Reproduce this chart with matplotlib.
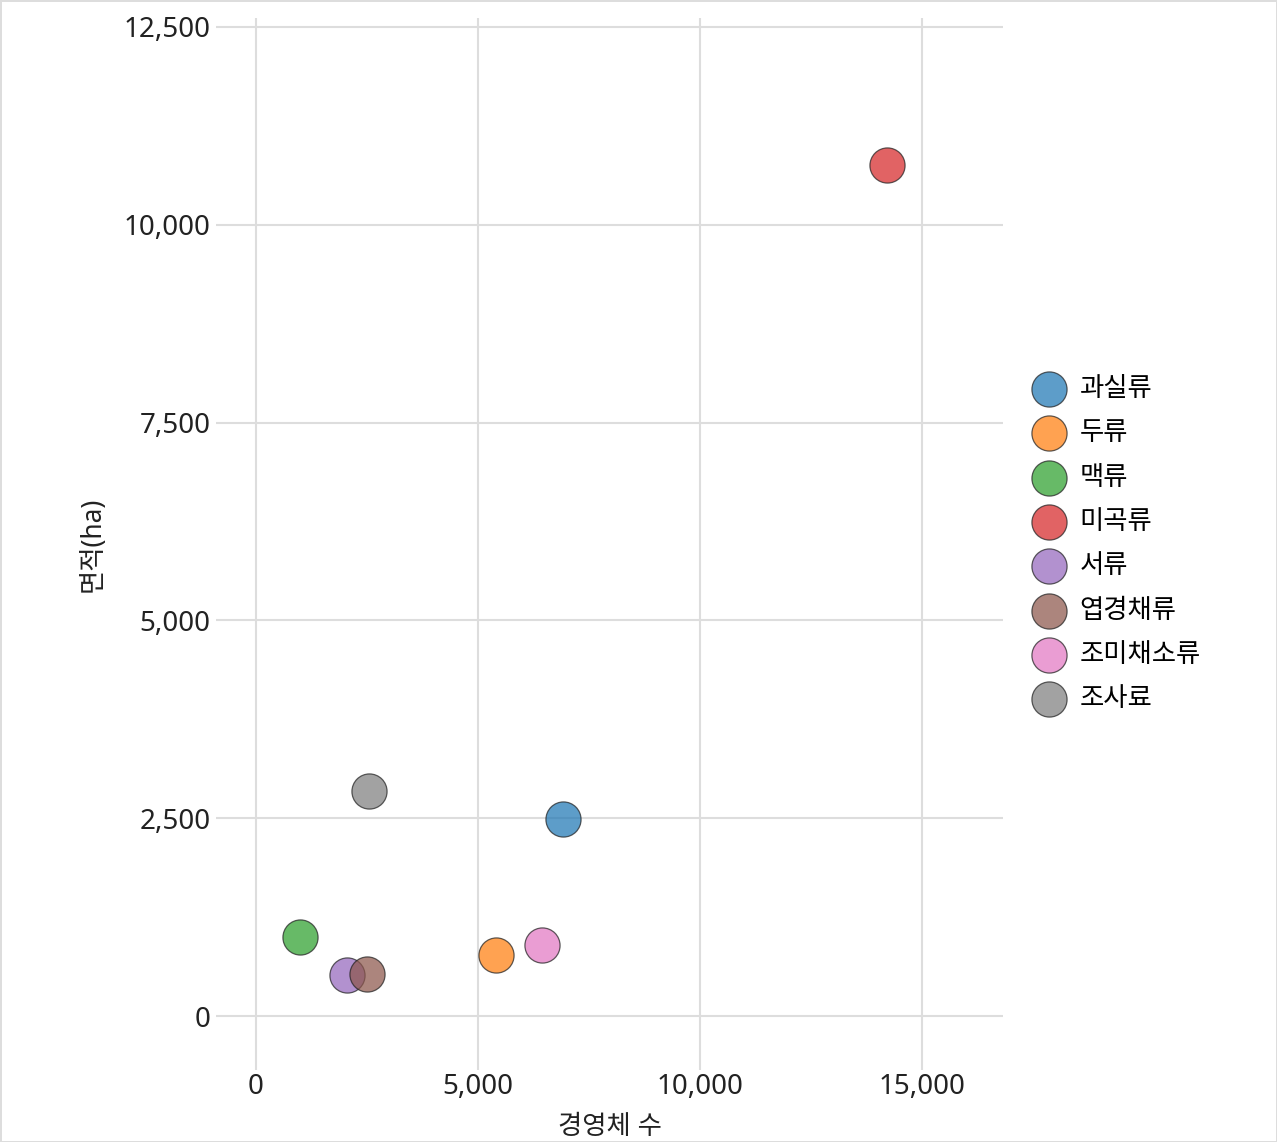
import matplotlib
matplotlib.use("Agg")
import matplotlib.pyplot as plt
from matplotlib.ticker import FuncFormatter

plt.rcParams['font.family'] = ['Noto Sans', 'Noto Sans CJK KR', 'DejaVu Sans']

crops = ["과실류", "두류", "맥류", "미곡류", "서류", "엽경채류", "조미채소류", "조사료"]
farms = [6910, 5400, 990, 14210, 2040, 2490, 6450, 2550]
area = [2490, 770, 1000, 10750, 520, 530, 905, 2840]
colors = ["#1f77b4", "#ff7f0e", "#2ca02c", "#d62728", "#9467bd", "#8c564b", "#e377c2", "#7f7f7f"]

fig = plt.figure(figsize=(12.77, 11.42), dpi=100)
fig.patch.set_edgecolor("#dddddd")
fig.patch.set_linewidth(2)
ax = fig.add_axes([0.1691, 0.0630, 0.6163, 0.9212])

for name, x, y, c in zip(crops, farms, area, colors):
    ax.scatter(x, y, s=640, color=c, alpha=0.72, edgecolor="#222222", linewidth=0.9, label=name, zorder=3)

ax.set_xlim(-900, 16820)
ax.set_ylim(-680, 12610)
ax.set_xticks([0, 5000, 10000, 15000])
ax.set_yticks([0, 2500, 5000, 7500, 10000, 12500])
fmt = FuncFormatter(lambda v, p: f"{int(v):,}")
ax.xaxis.set_major_formatter(fmt)
ax.yaxis.set_major_formatter(fmt)
ax.grid(True, color="#dddddd", linewidth=1.5, zorder=0)
ax.set_axisbelow(True)
for s in ax.spines.values():
    s.set_visible(False)
ax.tick_params(length=0, labelsize=20, colors="#222222")
ax.tick_params(axis="x", pad=2)
ax.tick_params(axis="y", pad=4)

ax.set_xlabel("경영체 수", fontsize=19, labelpad=9, color="#222222")
ax.set_ylabel("면적(ha)", fontsize=19, labelpad=12, color="#222222")

ax.legend(loc="center left", bbox_to_anchor=(0.995, 0.5), frameon=False, fontsize=19,
          markerscale=1.0, handletextpad=0.15, labelspacing=0.62, scatterpoints=1)

fig.savefig("out.png", dpi=100)
